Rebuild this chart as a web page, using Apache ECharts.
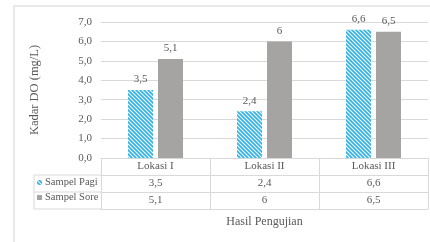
<!DOCTYPE html>
<html>
<head>
<meta charset="utf-8">
<script src="https://cdn.jsdelivr.net/npm/echarts@6/dist/echarts.min.js"></script>
<style>
  html, body { margin: 0; padding: 0; background: #fff; }
  #chart { width: 430px; height: 242px; }
</style>
</head>
<body>
<div id="chart"></div>
<script>
// data
var categories = ['Lokasi I', 'Lokasi II', 'Lokasi III']
var pagiValues = [3.5, 2.4, 6.6]
var soreValues = [5.1, 6, 6.5]
var seriesNames = ['Sampel Pagi', 'Sampel Sore']

var font = 'Liberation Serif'
var textColor = '#595959'
var lineColor = '#d9d9d9'

function fmt (v) {
  return String(v).replace('.', ',')
}

// hatched fill for the morning series
function hatch () {
  var c = document.createElement('canvas')
  c.width = 4
  c.height = 4
  var ctx = c.getContext('2d')
  ctx.fillStyle = '#2fb3e8'
  ctx.fillRect(0, 0, 4, 4)
  ctx.strokeStyle = '#ffffff'
  ctx.lineWidth = 1.1
  ctx.beginPath()
  ctx.moveTo(-1, -1); ctx.lineTo(5, 5)
  ctx.moveTo(-1, 3); ctx.lineTo(1, 5)
  ctx.moveTo(3, -1); ctx.lineTo(5, 1)
  ctx.stroke()
  return c
}

// one x axis per table row, stacked under the grid
function tableAxis (offset, values, extra) {
  var ax = {
    type: 'category',
    data: categories,
    position: 'bottom',
    offset: offset,
    axisLine: { show: true, lineStyle: { color: lineColor } },
    axisTick: { show: true, length: 17, lineStyle: { color: lineColor } },
    axisLabel: {
      show: !!values,
      margin: 3,
      fontFamily: font,
      fontSize: 11,
      color: textColor,
      formatter: function (v, i) { return values ? values[i] : '' }
    }
  }
  return Object.assign(ax, extra || {})
}

var myChart = echarts.init(document.getElementById('chart'))
myChart.setOption({
  animation: false,
  backgroundColor: '#fff',
  textStyle: { fontFamily: font },
  grid: { left: 101, right: 2, top: 22, bottom: 84 },
  legend: {
    orient: 'vertical',
    left: 37,
    top: 177,
    padding: 0,
    itemWidth: 5,
    itemHeight: 5,
    itemGap: 4,
    icon: 'rect',
    data: seriesNames,
    textStyle: { fontFamily: font, fontSize: 10.5, color: textColor, padding: [0, 0, 0, -2] }
  },
  xAxis: [
    tableAxis(0, categories),
    tableAxis(17, pagiValues.map(fmt)),
    tableAxis(34, soreValues.map(fmt)),
    tableAxis(51, null, {
      axisTick: { show: false },
      name: 'Hasil Pengujian',
      nameLocation: 'middle',
      nameGap: 7,
      nameTextStyle: { fontFamily: font, fontSize: 12, color: textColor, verticalAlign: 'top' }
    })
  ],
  yAxis: {
    type: 'value',
    min: 0,
    max: 7,
    interval: 1,
    name: 'Kadar DO (mg/L)',
    nameLocation: 'middle',
    nameRotate: 90,
    nameGap: 60,
    nameTextStyle: { fontFamily: font, fontSize: 12.5, color: textColor },
    axisLine: { show: false },
    axisTick: { show: false },
    axisLabel: {
      margin: 9,
      fontFamily: font,
      fontSize: 11,
      color: textColor,
      formatter: function (v) { return v.toFixed(1).replace('.', ',') }
    },
    splitLine: { lineStyle: { color: lineColor } }
  },
  series: [{
    name: seriesNames[0],
    type: 'bar',
    barWidth: 25,
    barGap: '20%',
    data: pagiValues,
    itemStyle: { color: { image: hatch(), repeat: 'repeat' } },
    label: {
      show: true, position: 'top', distance: 5,
      fontFamily: font, fontSize: 11, color: textColor,
      formatter: function (p) { return fmt(p.value) }
    }
  }, {
    name: seriesNames[1],
    type: 'bar',
    barWidth: 25,
    data: soreValues,
    itemStyle: { color: '#a6a3a3' },
    label: {
      show: true, position: 'top', distance: 5,
      fontFamily: font, fontSize: 11, color: textColor,
      formatter: function (p) { return fmt(p.value) }
    }
  }],
  graphic: [
    // outer chart-area frame
    { type: 'rect', shape: { x: 14, y: 6, width: 500, height: 300 }, style: { fill: 'none', stroke: '#e2e2e2', lineWidth: 1.5 }, silent: true },
    // legend column of the data table
    { type: 'polyline', shape: { points: [[101, 175], [34, 175], [34, 209], [101, 209]] }, style: { fill: 'none', stroke: lineColor }, silent: true },
    { type: 'line', shape: { x1: 34, y1: 192, x2: 101, y2: 192 }, style: { stroke: lineColor }, silent: true }
  ]
})
</script>
</body>
</html>
